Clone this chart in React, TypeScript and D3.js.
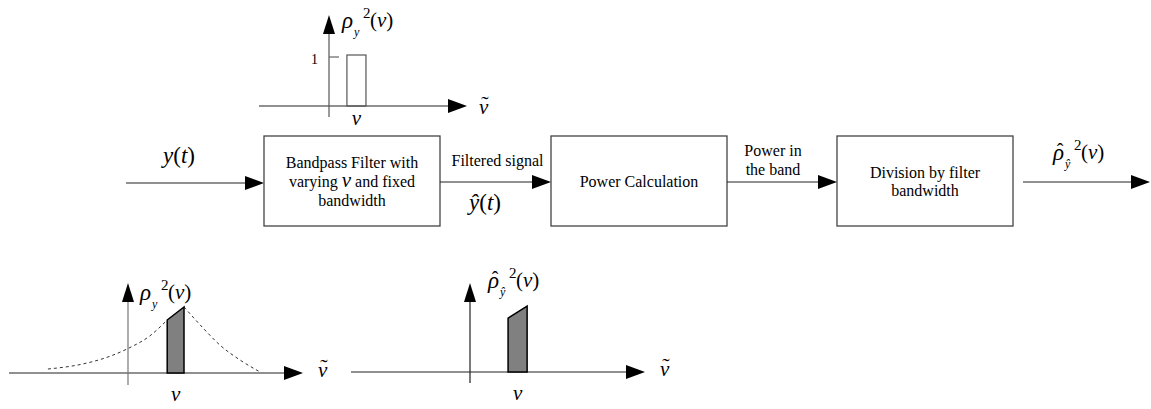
import React from "react";
import * as d3 from "d3";

// ---------------- data ----------------
const blockLines: string[][] = [
  ["Bandpass Filter with", "varying|ν|and fixed", "bandwidth"],
  ["Power Calculation"],
  ["Division by filter", "bandwidth"],
];
const linkLabels: string[][] = [["Filtered signal"], ["Power in", "the band"]];

// top plot: ideal band-pass response (ν̃ units, gain)
const idealBand: [number, number] = [0.32, 0.66];
const idealGain = 1;
const idealTicks = [1];

// bottom plots: spectrum (ν̃, power)
const spectrumLeft: [number, number][] = [
  [-1.43, 0.057], [-0.8, 0.13], [-0.32, 0.24], [0, 0.35], [0.39, 0.53], [0.7, 0.757],
];
const spectrumRight: [number, number][] = [
  [1.0, 0.943], [1.34, 0.643], [1.64, 0.4], [2.0, 0.186], [2.36, 0.014],
];
const bandSpectrum: [number, number][] = [[0.7, 0.757], [1.0, 0.943]];
const bandSpectrumEst: [number, number][] = [[0.68, 0.77], [1.02, 0.94]];

// ---------------- layout ----------------
const serif = '"Liberation Serif"';
const ARROW_Y = 182;
const boxX = [264, 551, 837];
const BOX_W = 176, BOX_Y = 136, BOX_H = 90;
const LINE_C = "#222";
const BOX_C = "#444";
const FONT = { fontFamily: serif };
const TXT = 16;

function arrowR(xTip: number, y: number, len = 19, half = 7) {
  return `M${xTip},${y}L${xTip - len},${y - half}L${xTip - len},${y + half}Z`;
}
function arrowU(x: number, yTip: number, len = 19, half = 6) {
  return `M${x},${yTip}L${x - half},${yTip + len}L${x + half},${yTip + len}Z`;
}

function NuTilde({ x, y }: { x: number; y: number }) {
  return (
    <g style={FONT}>
      <text x={x} y={y} fontSize={21} fontStyle="italic">ν</text>
      <text x={x + 6} y={y - 3} fontSize={22} textAnchor="middle">˜</text>
    </g>
  );
}

function RhoLabel({ x, y, hat }: { x: number; y: number; hat?: boolean }) {
  return (
    <g style={FONT}>
      <text x={x} y={y} fontSize={23} fontStyle="italic">ρ</text>
      {hat && (
        <text x={x + 7} y={y - 2} fontSize={20} textAnchor="middle">ˆ</text>
      )}
      <text x={x + 12} y={y + 8} fontSize={12} fontStyle="italic">{hat ? "ŷ" : "y"}</text>
      <text x={x + 21} y={y - 10} fontSize={15}>2</text>
      <text x={x + 28} y={y - 1} fontSize={21}>
        (<tspan fontStyle="italic">ν</tspan>)
      </text>
    </g>
  );
}

function SpectrumPlot({
  x0, x1, origin, yTop, yBottom, data, band, hat, showDashed,
}: {
  x0: number; x1: number; origin: [number, number]; yTop: number; yBottom: number;
  data: [number, number][][]; band: [number, number][]; hat?: boolean; showDashed?: boolean;
}) {
  const unit = 56;
  const x = d3.scaleLinear().domain([0, 1]).range([origin[0], origin[0] + unit]);
  const y = d3.scaleLinear().domain([0, 1]).range([origin[1], origin[1] - 70]);
  const line = d3.line<[number, number]>().x((d) => x(d[0])).y((d) => y(d[1])).curve(d3.curveMonotoneX);
  const area = d3.area<[number, number]>().x((d) => x(d[0])).y0(y(0)).y1((d) => y(d[1]));
  const bx = band.map((d) => x(d[0]));
  return (
    <g>
      <line x1={x0} x2={x1 - 18} y1={origin[1]} y2={origin[1]} stroke={LINE_C} strokeWidth={1.2} />
      <path d={arrowR(x1, origin[1])} fill="#000" />
      <line x1={origin[0]} x2={origin[0]} y1={yBottom} y2={yTop + 18} stroke={hat ? LINE_C : "#777"} strokeWidth={1.2} />
      <path d={arrowU(origin[0], yTop)} fill="#000" />
      {showDashed &&
        data.map((s, i) => (
          <path key={i} d={line(s) || ""} fill="none" stroke="#333" strokeWidth={1} strokeDasharray="3,3" />
        ))}
      <path d={area(band) || ""} fill="#808080" stroke="#000" strokeWidth={1.5} />
      <text x={(bx[0] + bx[1]) / 2} y={origin[1] + 28} fontSize={21} fontStyle="italic" textAnchor="middle" style={FONT}>ν</text>
      <NuTilde x={x1 + 15} y={origin[1] + 4} />
      <RhoLabel x={origin[0] + (hat ? 18 : 12)} y={hat ? yTop + 5 : yTop + 17} hat={hat} />
    </g>
  );
}

function TopPlot() {
  const origin: [number, number] = [329, 106];
  const x = d3.scaleLinear().domain([0, 1]).range([origin[0], origin[0] + 56]);
  const y = d3.scaleLinear().domain([0, 1]).range([origin[1], 55]);
  return (
    <g>
      <line x1={259} x2={467 - 18} y1={origin[1]} y2={origin[1]} stroke={LINE_C} strokeWidth={1.2} />
      <path d={arrowR(467, origin[1])} fill="#000" />
      <line x1={origin[0]} x2={origin[0]} y1={117} y2={15 + 18} stroke="#555" strokeWidth={1.2} />
      <path d={arrowU(origin[0], 15)} fill="#000" />
      {idealTicks.map((t) => (
        <g key={t}>
          <line x1={origin[0]} x2={origin[0] + 10} y1={y(t) + 2} y2={y(t) + 2} stroke="#666" strokeWidth={1.2} />
          <text x={origin[0] - 11} y={y(t) + 9} fontSize={14} textAnchor="end" fill="#000" style={FONT}>{t}</text>
        </g>
      ))}
      <rect
        x={x(idealBand[0])}
        y={y(idealGain)}
        width={x(idealBand[1]) - x(idealBand[0])}
        height={y(0) - y(idealGain)}
        fill="none"
        stroke="#555"
        strokeWidth={1.2}
      />
      <text x={(x(idealBand[0]) + x(idealBand[1])) / 2} y={125} fontSize={21} fontStyle="italic" textAnchor="middle" style={FONT}>ν</text>
      <NuTilde x={479} y={114} />
      <RhoLabel x={342} y={28} />
    </g>
  );
}

export default function App() {
  const boxCx = boxX.map((b) => b + BOX_W / 2);
  const boxBaselines = [[168, 187, 206], [187], [178, 196]];
  const linkCx = [(boxX[0] + BOX_W + boxX[1]) / 2 + 2, 773];
  const linkBaselines = [[166], [156, 175]];
  return (
    <svg width={1151} height={409} style={{ position: "absolute", left: 0, top: 0, background: "#fff", fontFamily: serif }}>
      <rect x={0} y={0} width={1151} height={409} fill="#fff" />
      <TopPlot />

      {/* input arrow */}
      <line x1={126} x2={264 - 18} y1={ARROW_Y + 1} y2={ARROW_Y + 1} stroke={LINE_C} strokeWidth={1.2} />
      <path d={arrowR(264, ARROW_Y + 1)} fill="#000" />
      <text x={163} y={163} fontSize={23} style={FONT}>
        <tspan fontStyle="italic">y</tspan>(<tspan fontStyle="italic">t</tspan>)
      </text>

      {/* blocks */}
      {boxX.map((bx, i) => (
        <g key={i} style={FONT}>
          <rect x={bx} y={BOX_Y} width={BOX_W} height={BOX_H} fill="none" stroke={BOX_C} strokeWidth={1.3} />
          {blockLines[i].map((ln, j) => {
            const parts = ln.split("|");
            return (
              <text key={j} x={boxCx[i]} y={boxBaselines[i][j]} fontSize={TXT} textAnchor="middle" style={FONT}>
                {parts.length === 1 ? (
                  ln
                ) : (
                  <>
                    {parts[0] + " "}
                    <tspan fontStyle="italic" fontSize={21}>{parts[1]}</tspan>
                    {"  " + parts[2]}
                  </>
                )}
              </text>
            );
          })}
        </g>
      ))}

      {/* links between blocks */}
      {[0, 1].map((i) => (
        <g key={i} style={FONT}>
          <line x1={boxX[i] + BOX_W} x2={boxX[i + 1] - 18} y1={ARROW_Y} y2={ARROW_Y} stroke={LINE_C} strokeWidth={1.2} />
          <path d={arrowR(boxX[i + 1], ARROW_Y)} fill="#000" />
          {linkLabels[i].map((ln, j) => (
            <text key={j} x={linkCx[i]} y={linkBaselines[i][j]} fontSize={TXT} textAnchor="middle" style={FONT}>{ln}</text>
          ))}
        </g>
      ))}
      <text x={469} y={210} fontSize={23} style={FONT}>
        <tspan fontStyle="italic">ŷ</tspan>(<tspan fontStyle="italic">t</tspan>)
      </text>

      {/* output arrow */}
      <line x1={1023} x2={1150 - 18} y1={ARROW_Y} y2={ARROW_Y} stroke={LINE_C} strokeWidth={1.2} />
      <path d={arrowR(1150, ARROW_Y)} fill="#000" />
      <RhoLabel x={1053} y={160} hat />

      {/* bottom plots */}
      <SpectrumPlot
        x0={9} x1={303} origin={[128, 373]} yTop={283} yBottom={385}
        data={[spectrumLeft, spectrumRight]} band={bandSpectrum} showDashed
      />
      <SpectrumPlot
        x0={351} x1={645} origin={[470, 372]} yTop={283} yBottom={383}
        data={[]} band={bandSpectrumEst} hat
      />
    </svg>
  );
}
